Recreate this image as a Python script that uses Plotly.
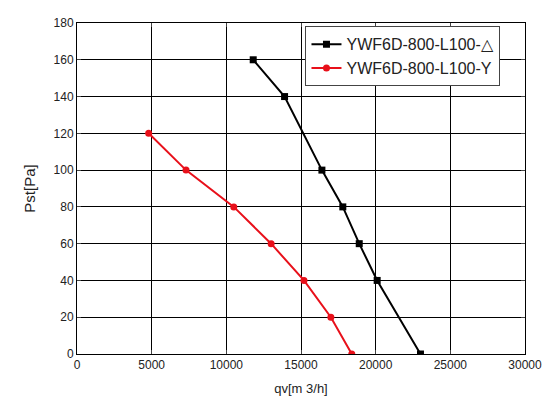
import plotly.graph_objects as go

black_x = [11800, 13900, 16400, 17800, 18900, 20100, 23000]
black_y = [160, 140, 100, 80, 60, 40, 0]
red_x = [4800, 7300, 10500, 13000, 15200, 17000, 18400]
red_y = [120, 100, 80, 60, 40, 20, 0]
names = ["YWF6D-800-L100-△", "YWF6D-800-L100-Y"]

fig = go.Figure()
fig.add_trace(go.Scatter(x=black_x, y=black_y, name=names[0], mode="lines+markers",
                         line=dict(color="black", width=2), marker=dict(symbol="square", size=7)))
fig.add_trace(go.Scatter(x=red_x, y=red_y, name=names[1], mode="lines+markers",
                         line=dict(color="#e8101a", width=2), marker=dict(symbol="circle", size=7)))
ax = dict(showgrid=True, gridcolor="black", gridwidth=1, showline=True, linecolor="black",
          linewidth=1, mirror="ticks", ticks="inside", ticklen=4, zeroline=False,
          automargin=False, tickfont=dict(family="Arial", size=12, color="#222"))
fig.update_xaxes(range=[0, 30000], dtick=5000, tickformat="d",
                 title=dict(text="qv[m 3/h]", font=dict(size=13), standoff=12), **ax)
fig.update_yaxes(range=[0, 180], dtick=20,
                 title=dict(text="Pst[Pa]", font=dict(size=15), standoff=14), **ax)
fig.update_layout(width=552, height=405, margin=dict(l=69, r=35, t=15, b=59),
                  paper_bgcolor="white", plot_bgcolor="white",
                  font=dict(family="Arial", color="#222"),
                  legend=dict(x=0.51, y=0.99, xanchor="left", yanchor="top",
                              bordercolor="#444", borderwidth=1, bgcolor="white",
                              font=dict(size=16), tracegroupgap=0))
fig.write_html("out.html")
